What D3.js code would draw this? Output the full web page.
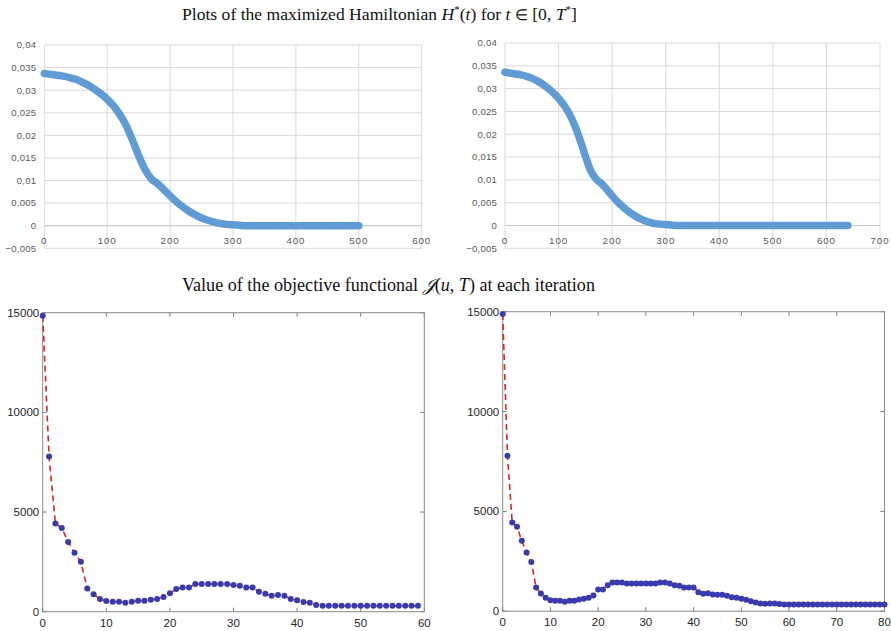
<!DOCTYPE html>
<html><head><meta charset="utf-8">
<script src="https://cdn.jsdelivr.net/npm/d3@7/dist/d3.min.js"></script>
<style>body{margin:0;background:#fff}svg{display:block}</style>
</head><body>
<svg id="c" width="891" height="631"></svg>
<script>
// ---------- DATA ----------
const hLeftT = d3.range(0, 501, 10);
const hLeftV = [0.0337,0.0335,0.0333,0.0331,0.0328,0.0324,0.0318,0.0311,0.0302,0.0292,
  0.0280,0.0265,0.0246,0.0222,0.0190,0.0155,0.0125,0.0104,0.0093,0.0080,
  0.0066,0.0053,0.0042,0.0032,0.0024,0.0017,0.0012,0.0008,0.0005,0.0003,
  0.0002,0.0001,0,0,0,0,0,0,0,0,
  0,0,0,0,0,0,0,0,0,0,0];
const hRightT = d3.range(0, 641, 10);
const hRightV = [0.0336,0.0334,0.0332,0.0330,0.0327,0.0323,0.0317,0.0310,0.0301,0.0291,
  0.0279,0.0264,0.0245,0.0220,0.0188,0.0152,0.0120,0.0102,0.0092,0.0079,
  0.0065,0.0052,0.0041,0.0031,0.0023,0.0016,0.0011,0.0007,0.0004,0.0003,
  0.0002,0.0001,0,0,0,0,0,0,0,0,
  0,0,0,0,0,0,0,0,0,0,
  0,0,0,0,0,0,0,0,0,0,
  0,0,0,0,0];
const hLeftXTicks = [0,100,200,300,400,500,600];
const hRightXTicks = [0,100,200,300,400,500,600,700];
const hYTicks = [-0.005,0,0.005,0.01,0.015,0.02,0.025,0.03,0.035,0.04];

// Objective functional J(u,T) at each iteration
const jLeft = [14850,7780,4430,4200,3500,2960,2500,1170,870,635,
  535,500,500,450,500,550,550,600,635,735,
  920,1140,1220,1220,1390,1390,1390,1390,1390,1390,
  1340,1300,1220,1220,1000,900,800,835,800,635,
  570,485,450,335,300,300,300,300,300,300,
  300,300,300,300,300,300,300,300,300,300];
const jRight = [14880,7780,4440,4225,3525,2940,2470,1186,885,668,
  550,518,518,468,518,518,585,618,668,785,
  1085,1085,1303,1436,1436,1436,1386,1386,1386,1386,
  1386,1386,1386,1436,1436,1386,1303,1270,1186,1186,
  1186,952,868,902,835,818,818,768,700,668,
  618,568,500,430,380,370,380,380,360,340,
  340,340,340,340,340,340,340,340,340,340,
  340,340,340,340,340,340,340,340,340,340,340];
const jYTicks = [0,5000,10000,15000];
const jLeftXTicks = [0,10,20,30,40,50,60];
const jRightXTicks = [0,10,20,30,40,50,60,70,80];

const title1 = [["Plots of the maximized Hamiltonian ",""],["H","i"],["*","s"],["(",""],["t","i"],[") for ",""],["t","i"],[" ",""],["∈","e"],[" [0, ",""],["T","i"],["*","s"],["]",""]];
const title2 = [["Value of the objective functional ",""],["𝒥","j"],["(",""],["u","i"],[", ",""],["T","i"],[") at each iteration",""]];

// ---------- DRAW ----------
const svg = d3.select("#c");
const fmtComma = d => d3.format("")(+d.toFixed(3)).replace(".", ",");

function title(parts, x, y, size) {
  const t = svg.append("text").attr("x", x).attr("y", y)
    .attr("font-family", "'Liberation Serif','Times New Roman',serif")
    .attr("font-size", size).attr("fill", "#111");
  parts.forEach(([s, k], i) => {
    const ts = t.append("tspan").text(s);
    const prev = i > 0 ? parts[i-1][1] : "";
    if (k === "i" || k === "j") ts.attr("font-style", "italic");
    if (k === "s") ts.attr("font-size", size * 0.62).attr("dy", -7);
    else if (prev === "s") ts.attr("dy", 7);
    if (k === "e") ts.attr("font-size", size * 0.85);
  });
}
title(title1, 182, 20, 17.6);
title(title2, 182, 291, 18.1);

function excelChart(T, V, xDom, xTicks, xr, yTop) {
  const x = d3.scaleLinear().domain(xDom).range(xr);
  const y = d3.scaleLinear().domain([-0.005, 0.04]).range([248.3, yTop]);
  const g = svg.append("g");
  g.selectAll(".hg").data(hYTicks).join("line")
    .attr("x1", xr[0]).attr("x2", xr[1]).attr("y1", d => y(d)).attr("y2", d => y(d))
    .attr("stroke", "#d9d9d9").attr("stroke-width", 1);
  g.selectAll(".vg").data(xTicks).join("line")
    .attr("x1", d => x(d)).attr("x2", d => x(d)).attr("y1", y(0.04)).attr("y2", y(-0.005))
    .attr("stroke", "#d9d9d9").attr("stroke-width", 1);
  g.append("line").attr("x1", xr[0]).attr("x2", xr[1]).attr("y1", y(0)).attr("y2", y(0))
    .attr("stroke", "#c8c8c8").attr("stroke-width", 1);
  g.selectAll(".yl").data(hYTicks).join("text")
    .attr("x", xr[0] - 8).attr("y", d => y(d)).attr("dy", "0.35em")
    .attr("text-anchor", "end").attr("font-family", "'Liberation Sans',Arial,sans-serif")
    .attr("font-size", 9.6).attr("letter-spacing", 0.2).attr("fill", "#595959")
    .text(d => d === 0 ? "0" : fmtComma(d));
  g.selectAll(".xl").data(xTicks).join("text")
    .attr("x", d => x(d)).attr("y", 240.7).attr("dy", "0.35em")
    .attr("text-anchor", "middle").attr("font-family", "'Liberation Sans',Arial,sans-serif")
    .attr("font-size", 9.8).attr("fill", "#595959").attr("letter-spacing", 0.9).text(d => d);
  const line = d3.line().x((d, i) => x(T[i])).y(d => y(d)).curve(d3.curveMonotoneX);
  g.append("path").attr("d", line(V)).attr("fill", "none")
    .attr("stroke", "#5f9bd5").attr("stroke-width", 7.5)
    .attr("stroke-linecap", "round").attr("stroke-linejoin", "round");
}
excelChart(hLeftT, hLeftV, [0, 600], hLeftXTicks, [44.3, 421.7], 45);
excelChart(hRightT, hRightV, [0, 700], hRightXTicks, [505, 880], 43);

function matlabChart(J, xDom, xTicks, xr, yr) {
  const x = d3.scaleLinear().domain(xDom).range(xr);
  const y = d3.scaleLinear().domain([0, 15000]).range(yr);
  const g = svg.append("g");
  const font = "'Liberation Sans',Arial,sans-serif";
  const tl = 4;
  g.selectAll(".tb").data(xTicks).join("line")
    .attr("x1", d => x(d)).attr("x2", d => x(d)).attr("y1", yr[0]).attr("y2", yr[0] - tl)
    .attr("stroke", "#7a7a7a");
  g.selectAll(".tt").data(xTicks).join("line")
    .attr("x1", d => x(d)).attr("x2", d => x(d)).attr("y1", yr[1]).attr("y2", yr[1] + tl)
    .attr("stroke", "#7a7a7a");
  g.selectAll(".tlft").data(jYTicks).join("line")
    .attr("x1", xr[0]).attr("x2", xr[0] + tl).attr("y1", d => y(d)).attr("y2", d => y(d))
    .attr("stroke", "#7a7a7a");
  g.selectAll(".trt").data(jYTicks).join("line")
    .attr("x1", xr[1]).attr("x2", xr[1] - tl).attr("y1", d => y(d)).attr("y2", d => y(d))
    .attr("stroke", "#7a7a7a");
  g.append("rect").attr("x", xr[0]).attr("y", yr[1]).attr("width", xr[1] - xr[0])
    .attr("height", yr[0] - yr[1]).attr("fill", "none").attr("stroke", "#8a8a8a");
  g.selectAll(".yl").data(jYTicks).join("text")
    .attr("x", xr[0] - 3.5).attr("y", d => y(d)).attr("dy", "0.35em")
    .attr("text-anchor", "end").attr("font-family", font).attr("font-size", 11.5)
    .attr("fill", "#262626").text(d => d);
  g.selectAll(".xl").data(xTicks).join("text")
    .attr("x", d => x(d)).attr("y", yr[0] + 11).attr("dy", "0.35em")
    .attr("text-anchor", "middle").attr("font-family", font).attr("font-size", 11.5)
    .attr("fill", "#262626").text(d => d);
  const line = d3.line().x((d, i) => x(i)).y(d => y(d));
  g.append("path").attr("d", line(J)).attr("fill", "none")
    .attr("stroke", "#d92525").attr("stroke-width", 1.6).attr("stroke-dasharray", "6,4");
  g.selectAll(".pt").data(J).join("circle")
    .attr("cx", (d, i) => x(i)).attr("cy", d => y(d)).attr("r", 3)
    .attr("fill", "#3a3ab0");
}
matlabChart(jLeft, [0, 60], jLeftXTicks, [42.7, 424.3], [611.7, 312.7]);
matlabChart(jRight, [0, 80], jRightXTicks, [502.7, 884.5], [611.2, 311.7]);
</script>
</body></html>
